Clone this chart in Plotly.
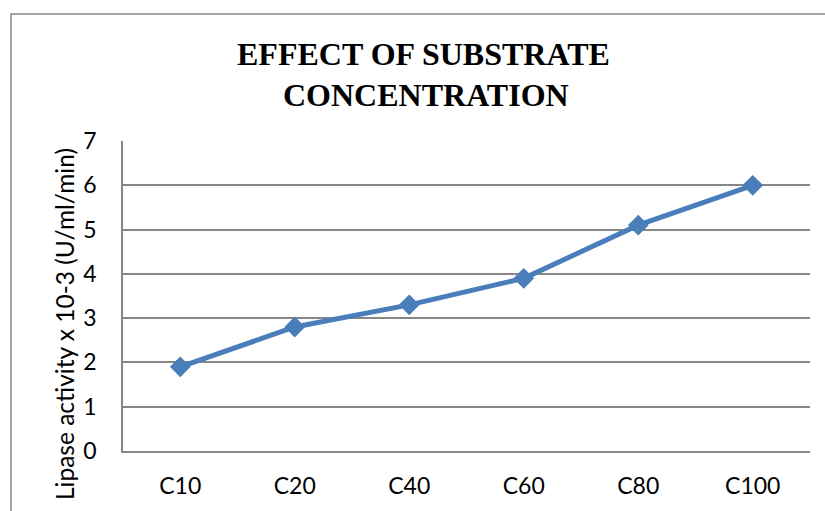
import plotly.graph_objects as go

categories = ["C10", "C20", "C40", "C60", "C80", "C100"]
activity = [1.9, 2.8, 3.3, 3.9, 5.1, 6.0]
y_ticks = [0, 1, 2, 3, 4, 5, 6, 7]

W, H = 825, 511
L, R, T, B = 123, 15, 141, 60
pw, ph = W - L - R, H - T - B

def px_x(x):
    return (x - L) / pw

def px_y(y):
    return (H - B - y) / ph

fig = go.Figure()
fig.add_trace(go.Scatter(
    x=categories, y=activity, mode="lines+markers",
    line=dict(color="#4A7EBB", width=5),
    marker=dict(symbol="diamond", size=16, color="#4A7EBB"),
    showlegend=False, cliponaxis=False,
))

grid = "#878787"
fig.update_layout(
    width=W, height=H,
    margin=dict(l=L, r=R, t=T, b=B, autoexpand=False),
    paper_bgcolor="white", plot_bgcolor="white",
    font=dict(family="Lato", color="#000000", size=23),
    xaxis=dict(
        type="category", range=[-0.5, 5.5], showgrid=False, automargin=False,
        showline=True, linecolor=grid, linewidth=1.5,
        ticks="", ticklabelstandoff=14,
        tickfont=dict(family="Lato", size=23, color="#000"),
    ),
    yaxis=dict(
        range=[0, 7], tickvals=y_ticks, showgrid=True, gridcolor=grid, gridwidth=1.5,
        showline=True, linecolor=grid, linewidth=1.5, zeroline=False, automargin=False,
        ticks="", ticklabelstandoff=20,
        tickfont=dict(family="Lato", size=23, color="#000"),
    ),
    shapes=[dict(
        type="rect", xref="paper", yref="paper",
        x0=px_x(11), x1=px_x(900), y0=px_y(600), y1=px_y(14),
        line=dict(color="#878787", width=1.5), fillcolor="rgba(0,0,0,0)", layer="below",
    )],
    annotations=[
        dict(text="<b>EFFECT OF SUBSTRATE</b>", xref="paper", yref="paper",
             x=px_x(423), y=px_y(54), xanchor="center", yanchor="middle", showarrow=False,
             font=dict(family="Liberation Serif", size=32, color="#000")),
        dict(text="<b>CONCENTRATION</b>", xref="paper", yref="paper",
             x=px_x(426), y=px_y(95), xanchor="center", yanchor="middle", showarrow=False,
             font=dict(family="Liberation Serif", size=32, color="#000")),
        dict(text="Lipase activity x 10-3 (U/ml/min)", xref="paper", yref="paper",
             x=px_x(64), y=px_y(324), xanchor="center", yanchor="middle", showarrow=False,
             textangle=-90, font=dict(family="Lato", size=24.5, color="#000")),
    ],
)

fig.write_html("out.html")
